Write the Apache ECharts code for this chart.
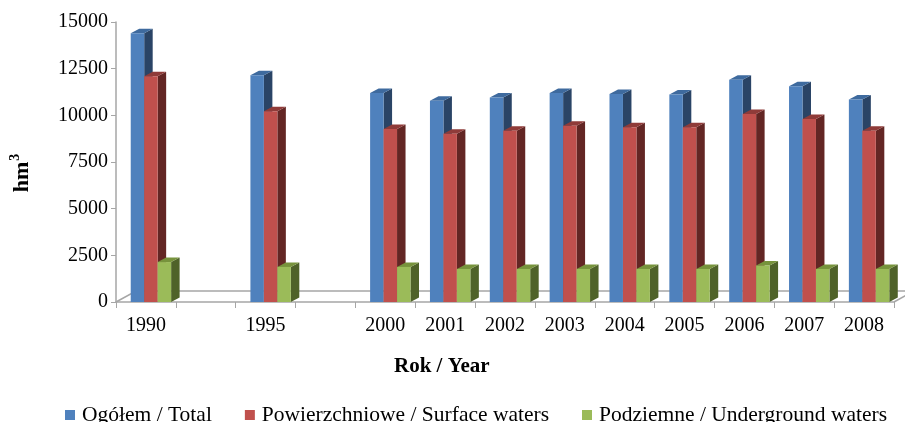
<!DOCTYPE html>
<html>
<head>
<meta charset="utf-8">
<script src="https://cdn.jsdelivr.net/npm/echarts@6/dist/echarts.min.js"></script>
<style>html,body{margin:0;padding:0;background:#fff}#c{width:905px;height:422px}</style>
</head>
<body>
<div id="c"></div>
<script>
var categories = ['1990', '', '1995', '', '2000', '2001', '2002', '2003', '2004', '2005', '2006', '2007', '2008'];
var total   = [14400, null, 12150, null, 11200, 10780, 10950, 11200, 11140, 11120, 11900, 11560, 10850];
var surface = [12100, null, 10220, null, 9270, 9020, 9180, 9440, 9360, 9360, 10070, 9800, 9180];
var ground  = [2140, null, 1880, null, 1880, 1770, 1770, 1770, 1770, 1770, 1960, 1770, 1770];
var seriesNames = ['Ogółem / Total', 'Powierzchniowe / Surface waters', 'Podziemne / Underground waters'];
var yTicks = [0, 2500, 5000, 7500, 10000, 12500, 15000];

var FONT = '"Liberation Serif", "Times New Roman", serif';
var faces = [
  {front: '#4F81BD', side: '#2A4466', top: '#3E6A9E'},
  {front: '#C0504D', side: '#632624', top: '#8F3B39'},
  {front: '#9BBB59', side: '#4F6229', top: '#77933C'}
];
var SHIFT = 5, DX = 8.5, DY = 4.5;

function makeRender(si) {
  return function (params, api) {
    var v = api.value(1);
    if (v == null || isNaN(v)) return null;
    var base = api.coord([api.value(0), 0]);
    var top = api.coord([api.value(0), v]);
    var band = api.size([1, 0])[0];
    var w = band * 0.225;
    var x0 = base[0] + SHIFT + (si - 1.5) * w;
    var c = faces[si];
    return {
      type: 'group',
      children: [
        {type: 'polygon', shape: {points: [[x0 + w, top[1]], [x0 + w + DX, top[1] - DY], [x0 + w + DX, base[1] - DY], [x0 + w, base[1]]]}, style: {fill: c.side}},
        {type: 'polygon', shape: {points: [[x0, top[1]], [x0 + DX, top[1] - DY], [x0 + w + DX, top[1] - DY], [x0 + w, top[1]]]}, style: {fill: c.top}},
        {type: 'rect', shape: {x: x0, y: top[1], width: w, height: base[1] - top[1]}, style: {fill: c.front}}
      ]
    };
  };
}

function floorRender(params, api) {
  var band = api.size([1, 0])[0];
  var p0 = api.coord([0, 0]);
  var p1 = api.coord([categories.length - 1, 0]);
  var xl = p0[0] - band / 2, xr = p1[0] + band / 2, y0 = p0[1];
  var fx = 20, fy = 11;
  var st = {stroke: '#A6A6A6', lineWidth: 1.5, fill: null};
  return {
    type: 'group',
    children: [
      {type: 'polyline', shape: {points: [[xl, y0], [xl + fx, y0 - fy], [xr + fx, y0 - fy]]}, style: st},
      {type: 'line', shape: {x1: xr, y1: y0, x2: xr + fx, y2: y0 - fy}, style: st}
    ]
  };
}

function toData(arr) { return arr.map(function (v, i) { return [i, v]; }); }

var series = [{
  type: 'custom', name: 'floor', renderItem: floorRender, data: [[0, 0]], clip: false, z: 1, silent: true
}];
[total, surface, ground].forEach(function (arr, si) {
  series.push({
    type: 'custom', name: seriesNames[si], renderItem: makeRender(si),
    data: toData(arr), encode: {x: 0, y: 1}, clip: false, z: 2 + si,
    itemStyle: {color: faces[si].front}
  });
});

var chart = echarts.init(document.getElementById('c'));
chart.setOption({
  animation: false,
  backgroundColor: '#ffffff',
  textStyle: {fontFamily: FONT},
  title: {
    text: 'Rok / Year', left: 394, top: 356, padding: 0,
    textStyle: {fontFamily: FONT, fontWeight: 'bold', fontSize: 21, color: '#000'}
  },
  legend: {
    data: seriesNames.map(function (n) { return {name: n, icon: 'rect'}; }),
    left: 60, top: 399, itemWidth: 10, itemHeight: 10, itemGap: 33,
    textStyle: {fontFamily: FONT, fontSize: 21.5, color: '#000', padding: [0, 0, 0, 2]}
  },
  grid: {left: 114, right: 11, top: 22, bottom: 120, containLabel: false},
  xAxis: {
    type: 'category', data: categories, boundaryGap: true,
    axisLine: {lineStyle: {color: '#A6A6A6', width: 1.5}},
    axisTick: {show: true, interval: 0, length: 6, inside: false, lineStyle: {color: '#A6A6A6'}},
    axisLabel: {interval: 0, margin: 14, fontFamily: FONT, fontSize: 20, color: '#000'},
    splitLine: {show: false}
  },
  yAxis: {
    type: 'value', min: 0, max: 15000, interval: 2500,
    name: '{a|hm}{b|3}', nameLocation: 'middle', nameGap: 80, nameRotate: 90,
    nameTextStyle: {
      padding: [0, 22, 0, 0],
      rich: {
        a: {fontFamily: FONT, fontWeight: 'bold', fontSize: 22, color: '#000'},
        b: {fontFamily: FONT, fontWeight: 'bold', fontSize: 14, color: '#000', verticalAlign: 'top', padding: [0, 0, 14, 1]}
      }
    },
    axisLine: {show: true, lineStyle: {color: '#A6A6A6', width: 1.5}},
    axisTick: {show: true, length: 5, lineStyle: {color: '#A6A6A6'}},
    axisLabel: {
      margin: 8, fontFamily: FONT, fontSize: 20, color: '#000',
      formatter: function (v) { return yTicks.indexOf(v) >= 0 ? String(v) : ''; }
    },
    splitLine: {show: false}
  },
  series: series
});
</script>
</body>
</html>
